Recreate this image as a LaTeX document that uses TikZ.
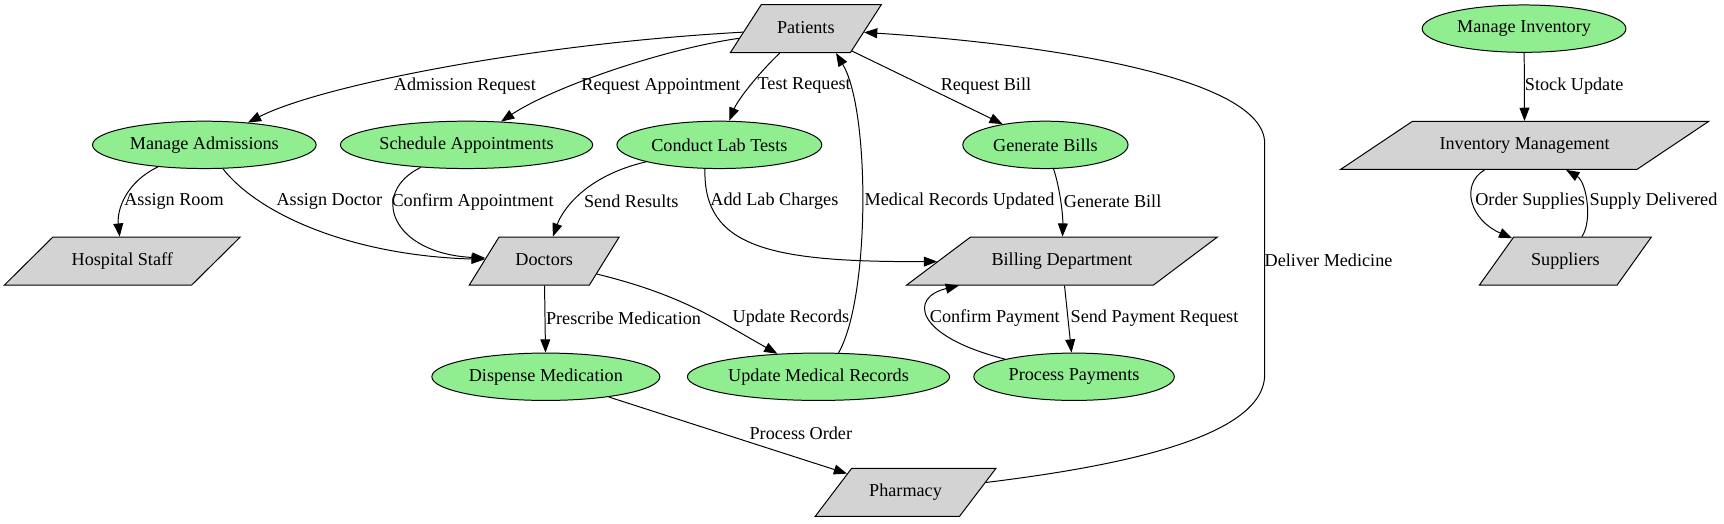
\documentclass[tikz,border=0pt]{standalone}
\usepackage{fontspec}
\setmainfont{Liberation Serif}
\usetikzlibrary{shapes.geometric,arrows.meta}
\definecolor{lgreen}{HTML}{90EE90}
\definecolor{lgrey}{HTML}{D3D3D3}
\begin{document}
\begin{tikzpicture}[x=1pt,y=-1pt,line width=0.9pt,
  font=\fontsize{16.5}{19}\selectfont,
  proc/.style={ellipse, draw, fill=lgreen, inner sep=0pt, minimum height=43pt},
  para/.style={trapezium, draw, fill=lgrey, inner xsep=0pt, inner ysep=14.25pt, text height=11.5pt, text depth=3.5pt, trapezium stretches body=true},
  conn/.style={draw, -{Triangle[length=12pt,width=9pt]}},
  lbl/.style={inner sep=0pt}
]
\useasboundingbox (0,0) rectangle (1565,475);
% parallelograms
\node[para, minimum width=137pt, trapezium left angle=57.2, trapezium right angle=122.8] (pat) at (731.5,26) {Patients};
\node[para, minimum width=214pt, trapezium left angle=44.7, trapezium right angle=135.3] (hstaff) at (111,237) {Hospital Staff};
\node[para, minimum width=136pt, trapezium left angle=58.2, trapezium right angle=121.8] (doc) at (494,237) {Doctors};
\node[para, minimum width=282pt, trapezium left angle=36.9, trapezium right angle=143.1] (bill) at (964,237) {Billing Department};
\node[para, minimum width=334pt, trapezium left angle=33.8, trapezium right angle=146.2] (invm) at (1384,132) {Inventory Management};
\node[para, minimum width=156pt, trapezium left angle=54.5, trapezium right angle=125.5] (sup) at (1421,237) {Suppliers};
\node[para, minimum width=164pt, trapezium left angle=52.8, trapezium right angle=127.2] (pharm) at (822,447) {Pharmacy};
% ellipses
\node[proc, minimum width=203pt] (madm) at (185.5,131.5) {Manage Admissions};
\node[proc, minimum width=229pt] (sched) at (423.5,131.5) {Schedule Appointments};
\node[proc, minimum width=186pt] (lab) at (653,131.5) {Conduct Lab Tests};
\node[proc, minimum width=150pt] (gbills) at (949,131.5) {Generate Bills};
\node[proc, minimum width=185pt] (minv) at (1383.5,26) {Manage Inventory};
\node[proc, minimum width=207pt] (disp) at (495.5,342) {Dispense Medication};
\node[proc, minimum width=238pt] (umr) at (743,342) {Update Medical Records};
\node[proc, minimum width=182pt] (ppay) at (975,342) {Process Payments};
% connectors
\draw[conn] (pat) .. controls (480,40) and (290,78) .. (madm);
\draw[conn] (pat) .. controls (600,45) and (500,80) .. (sched);
\draw[conn] (pat) .. controls (690,65) and (670,90) .. (lab);
\draw[conn] (pat) -- (gbills);
\draw[conn] (madm) .. controls (115,165) and (106,190) .. (hstaff);
\draw[conn] (madm) .. controls (235,195) and (320,232) .. (doc);
\draw[conn] (sched) .. controls (335,175) and (355,230) .. (doc);
\draw[conn] (lab) .. controls (530,160) and (510,192) .. (doc);
\draw[conn] (lab.239) .. controls (638,225) and (700,238) .. (bill);
\draw[conn] (gbills) .. controls (962,170) and (965,195) .. (bill);
\draw[conn] (doc) -- (disp);
\draw[conn] (doc) .. controls (620,268) and (650,290) .. (umr);
\draw[conn] (umr.50) .. controls (790,270) and (790,100) .. (pat.-39);
\draw[conn] (bill) -- (ppay);
\draw[conn] (ppay) .. controls (830,305) and (825,270) .. (bill);
\draw[conn] (disp) -- (pharm);
\draw[conn] (pharm) .. controls (1000,425) and (1148,400) .. (1148,340) -- (1148,130) .. controls (1148,70) and (950,40) .. (pat);
\draw[conn] (minv) -- (invm);
\draw[conn] (invm) .. controls (1325,168) and (1335,200) .. (sup);
\draw[conn] (sup) .. controls (1446,200) and (1440,165) .. (invm);
% labels
\node[lbl] (l1) at (422,78) {Admission Request};
\node[lbl] (l2) at (600,78) {Request Appointment};
\node[lbl] (l3) at (730,78) {Test Request};
\node[lbl] (l4) at (895,78) {Request Bill};
\node[lbl] (l5) at (1429,78) {Stock Update};
\node[lbl] (l6) at (158,183) {Assign Room};
\node[lbl] (l7) at (299,183) {Assign Doctor};
\node[lbl] (l8) at (429,183) {Confirm Appointment};
\node[lbl] (l9) at (573,183) {Send Results};
\node[lbl] (l10) at (703,183) {Add Lab Charges};
\node[lbl] (l11) at (871,183) {Medical Records Updated};
\node[lbl] (l12) at (1010,183) {Generate Bill};
\node[lbl] (l13) at (1389,183) {Order Supplies};
\node[lbl] (l14) at (1501,183) {Supply Delivered};
\node[lbl] (l15) at (1206,236) {Deliver Medicine};
\node[lbl] (l16) at (566,289) {Prescribe Medication};
\node[lbl] (l17) at (718,289) {Update Records};
\node[lbl] (l18) at (903,289) {Confirm Payment};
\node[lbl] (l19) at (1048,289) {Send Payment Request};
\node[lbl] (l20) at (727,393) {Process Order};
\end{tikzpicture}
\end{document}
